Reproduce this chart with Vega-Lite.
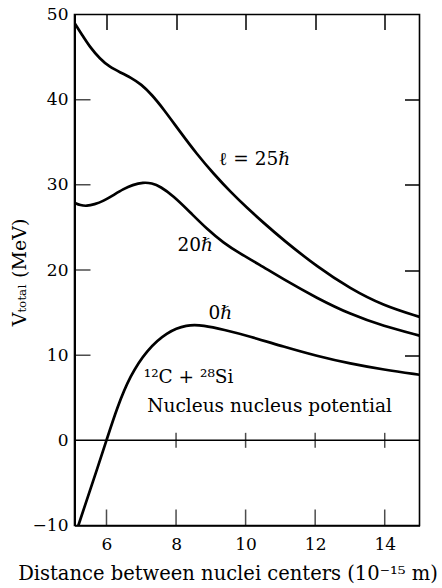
{
  "$schema": "https://vega.github.io/schema/vega-lite/v6.json",
  "width": 345,
  "height": 511,
  "autosize": "none",
  "padding": {"left": 74.5, "top": 14.5, "right": 22.5, "bottom": 62},
  "background": "white",
  "config": {
    "view": {"stroke": "black", "strokeWidth": 1.6},
    "font": "DejaVu Serif",
    "axis": {
      "labelFont": "DejaVu Serif",
      "titleFont": "DejaVu Serif",
      "labelColor": "black",
      "titleColor": "black",
      "tickColor": "black",
      "domainColor": "black",
      "grid": false,
      "labelFontSize": 17,
      "titleFontSize": 18,
      "titleFontWeight": "normal",
      "tickWidth": 1.5
    }
  },
  "datasets": {
    "curves": [
      {"series": "25", "r": 5.08, "V": 49.0},
      {"series": "25", "r": 5.3, "V": 47.6},
      {"series": "25", "r": 5.52, "V": 46.2},
      {"series": "25", "r": 5.81, "V": 44.8},
      {"series": "25", "r": 6.1, "V": 43.8},
      {"series": "25", "r": 6.4, "V": 43.2},
      {"series": "25", "r": 6.7, "V": 42.6},
      {"series": "25", "r": 7.0, "V": 41.8},
      {"series": "25", "r": 7.3, "V": 40.6},
      {"series": "25", "r": 7.64, "V": 38.9},
      {"series": "25", "r": 8.12, "V": 36.2},
      {"series": "25", "r": 8.6, "V": 33.6},
      {"series": "25", "r": 9.08, "V": 31.3},
      {"series": "25", "r": 9.56, "V": 29.2},
      {"series": "25", "r": 10.04, "V": 27.3},
      {"series": "25", "r": 10.5, "V": 25.6},
      {"series": "25", "r": 11.09, "V": 23.5},
      {"series": "25", "r": 12.05, "V": 20.4},
      {"series": "25", "r": 13.01, "V": 17.8},
      {"series": "25", "r": 13.97, "V": 15.8},
      {"series": "25", "r": 15.0, "V": 14.5},
      {"series": "20", "r": 5.08, "V": 27.9},
      {"series": "20", "r": 5.25, "V": 27.6},
      {"series": "20", "r": 5.43, "V": 27.5},
      {"series": "20", "r": 5.65, "V": 27.7},
      {"series": "20", "r": 5.91, "V": 28.1},
      {"series": "20", "r": 6.2, "V": 28.8},
      {"series": "20", "r": 6.48, "V": 29.5},
      {"series": "20", "r": 6.75, "V": 30.0},
      {"series": "20", "r": 7.06, "V": 30.3},
      {"series": "20", "r": 7.3, "V": 30.2},
      {"series": "20", "r": 7.55, "V": 29.8},
      {"series": "20", "r": 7.92, "V": 28.7},
      {"series": "20", "r": 8.4, "V": 26.8},
      {"series": "20", "r": 8.89, "V": 24.8},
      {"series": "20", "r": 9.36, "V": 23.2},
      {"series": "20", "r": 9.85, "V": 21.9},
      {"series": "20", "r": 10.37, "V": 20.7},
      {"series": "20", "r": 11.09, "V": 18.9},
      {"series": "20", "r": 12.05, "V": 16.7},
      {"series": "20", "r": 13.01, "V": 14.8},
      {"series": "20", "r": 13.97, "V": 13.4},
      {"series": "20", "r": 15.0, "V": 12.3},
      {"series": "0", "r": 5.19, "V": -10.0},
      {"series": "0", "r": 5.45, "V": -6.8},
      {"series": "0", "r": 5.72, "V": -3.5},
      {"series": "0", "r": 6.0, "V": 0.0},
      {"series": "0", "r": 6.3, "V": 3.8},
      {"series": "0", "r": 6.68, "V": 7.6},
      {"series": "0", "r": 7.16, "V": 10.6},
      {"series": "0", "r": 7.73, "V": 12.7},
      {"series": "0", "r": 8.31, "V": 13.6},
      {"series": "0", "r": 8.79, "V": 13.5},
      {"series": "0", "r": 9.36, "V": 13.0},
      {"series": "0", "r": 10.13, "V": 12.2},
      {"series": "0", "r": 11.09, "V": 11.0},
      {"series": "0", "r": 12.05, "V": 9.9},
      {"series": "0", "r": 13.01, "V": 9.0},
      {"series": "0", "r": 13.97, "V": 8.3},
      {"series": "0", "r": 15.0, "V": 7.7}
    ],
    "zeroTicks": [
      {"r": 8, "V": 0},
      {"r": 10, "V": 0},
      {"r": 12, "V": 0},
      {"r": 14, "V": 0}
    ],
    "bottomTicks": [
      {"r": 6, "V": -10},
      {"r": 8, "V": -10},
      {"r": 10, "V": -10},
      {"r": 12, "V": -10},
      {"r": 14, "V": -10}
    ],
    "leftTicks": [
      {"r": 5.08, "V": 10},
      {"r": 5.08, "V": 20},
      {"r": 5.08, "V": 30},
      {"r": 5.08, "V": 40}
    ],
    "labels": [
      {"r": 10.25, "V": 33.0, "label": "ℓ = 25ℏ"},
      {"r": 8.55, "V": 22.9, "label": "20ℏ"},
      {"r": 9.27, "V": 15.0, "label": "0ℏ"},
      {"r": 8.36, "V": 7.4, "label": "¹²C + ²⁸Si"},
      {"r": 10.69, "V": 4.0, "label": "Nucleus nucleus potential"}
    ]
  },
  "layer": [
    {
      "data": {"name": "curves"},
      "mark": {"type": "line", "color": "black", "strokeWidth": 2.7, "interpolate": "basis", "clip": true},
      "encoding": {
        "x": {
          "field": "r", "type": "quantitative",
          "scale": {"domain": [5.08, 15], "nice": false, "zero": false},
          "axis": {
            "orient": "bottom", "values": [6, 8, 10, 12, 14], "ticks": false,
            "labelPadding": 11, "domain": true, "domainWidth": 1.6,
            "title": "Distance between nuclei centers (10⁻¹⁵ m)", "titlePadding": 12,
            "titleFontSize": 19.5, "titleX": 153, "titleAlign": "center"
          }
        },
        "y": {
          "field": "V", "type": "quantitative",
          "scale": {"domain": [-10, 50], "nice": false, "zero": false},
          "axis": {
            "orient": "left", "values": [-10, 0, 10, 20, 30, 40, 50], "ticks": false,
            "labelPadding": 6.5, "domain": true, "domainWidth": 2,
            "title": "Vₜₒₜₐₗ  (MeV)", "titlePadding": 3, "titleFontSize": 19,
            "titleY": 257.5
          }
        },
        "detail": {"field": "series"}
      }
    },
    {
      "data": {"values": [{"V": 0}]},
      "mark": {"type": "rule", "color": "black", "strokeWidth": 1.5},
      "encoding": {
        "y": {"field": "V", "type": "quantitative", "axis": null}
      }
    },
    {
      "data": {"name": "zeroTicks"},
      "mark": {"type": "tick", "orient": "vertical", "color": "black", "size": 15, "thickness": 1.5},
      "encoding": {
        "x": {
          "field": "r", "type": "quantitative",
          "axis": {"orient": "top", "values": [6, 8, 10, 12, 14], "tickSize": -15, "labels": false, "domain": false, "title": null}
        },
        "y": {
          "field": "V", "type": "quantitative",
          "axis": {"orient": "right", "values": [10, 20, 30, 40], "tickSize": -15, "labels": false, "domain": false, "title": null}
        }
      }
    },
    {
      "data": {"name": "bottomTicks"},
      "mark": {"type": "tick", "orient": "vertical", "color": "black", "size": 32, "thickness": 1.5, "clip": true},
      "encoding": {
        "x": {"field": "r", "type": "quantitative", "axis": null},
        "y": {"field": "V", "type": "quantitative", "axis": null}
      }
    },
    {
      "data": {"name": "leftTicks"},
      "mark": {"type": "tick", "orient": "horizontal", "color": "black", "size": 32, "thickness": 1.5, "clip": true},
      "encoding": {
        "x": {"field": "r", "type": "quantitative", "axis": null},
        "y": {"field": "V", "type": "quantitative", "axis": null}
      }
    },
    {
      "data": {"name": "labels"},
      "mark": {"type": "text", "color": "black", "fontSize": 18.5, "font": "DejaVu Serif", "align": "center", "baseline": "middle"},
      "encoding": {
        "x": {"field": "r", "type": "quantitative", "axis": null},
        "y": {"field": "V", "type": "quantitative", "axis": null},
        "text": {"field": "label"}
      }
    }
  ],
  "resolve": {"axis": {"x": "independent", "y": "independent"}}
}
